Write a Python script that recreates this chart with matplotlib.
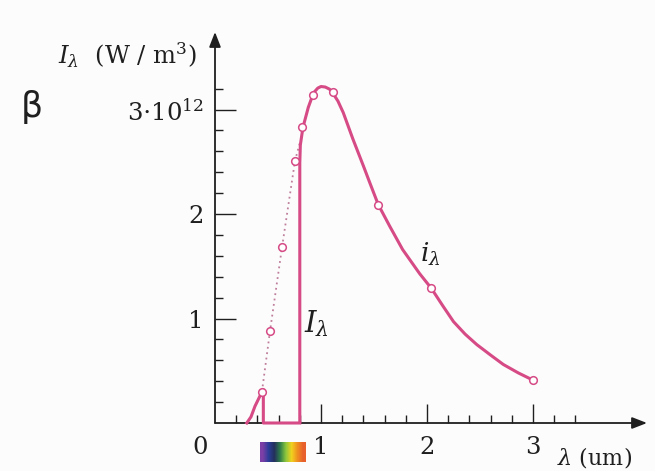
import matplotlib
matplotlib.use("Agg")
import matplotlib.pyplot as plt
import numpy as np
from matplotlib.colors import to_rgb

# (x in um, y in 10^12 W/m^3)
marker_x = [0.443, 0.519, 0.632, 0.755, 0.825, 0.925, 1.113, 1.538, 2.04, 3.0]
marker_y = [0.30, 0.88, 1.68, 2.51, 2.83, 3.14, 3.17, 2.09, 1.29, 0.41]

# dotted part (spectrum that is cut off)
dotted_x = [0.443, 0.519, 0.632, 0.755, 0.80]
dotted_y = [0.30, 0.88, 1.68, 2.51, 2.68]

# short rise at the left
left_x = [0.30, 0.34, 0.377, 0.42, 0.456, 0.456, 0.80]
left_y = [0.0, 0.06, 0.16, 0.25, 0.32, 0.0, 0.0]

# main solid curve
curve_x = [0.80, 0.80, 0.805, 0.83, 0.88, 0.93, 0.97, 1.00, 1.04, 1.08, 1.11, 1.16, 1.21,
           1.30, 1.40, 1.46, 1.54, 1.65, 1.77, 1.93, 2.04, 2.15, 2.25, 2.36, 2.47, 2.60,
           2.72, 2.86, 3.0]
curve_y = [0.0, 2.49, 2.66, 2.83, 3.02, 3.16, 3.205, 3.22, 3.215, 3.195, 3.16, 3.08, 2.97,
           2.72, 2.46, 2.30, 2.09, 1.88, 1.66, 1.43, 1.29, 1.12, 0.97, 0.85, 0.75, 0.65,
           0.56, 0.48, 0.41]

y_tick_labels = ["1", "2", r"$3{\cdot}10^{12}$"]
x_tick_labels = ["1", "2", "3"]
spectrum_colors = ["#7b3fa6", "#2c3c98", "#23305c", "#2f7d4a", "#8cc63e", "#f0d21e", "#f09020", "#e8602c"]

pink = "#d64a85"
ink = "#1f1f1f"

plt.rcParams["font.family"] = "DejaVu Serif"
plt.rcParams["mathtext.fontset"] = "dejavuserif"

fig = plt.figure(figsize=(6.55, 4.71), dpi=100, facecolor="#fcfcfc")
W, H = 655, 471
x0, y0 = 215, 423
sx, sy = 106, 104.5
xmax = (647 - x0) / sx
ymax = (y0 - 32) / sy
ax = fig.add_axes([x0 / W, (H - y0) / H, (647 - x0) / W, (y0 - 32) / H])
ax.set_facecolor("none")
ax.set_xlim(0, xmax)
ax.set_ylim(0, ymax)

for s in ax.spines.values():
    s.set_visible(False)

# axes with arrow heads
ax.annotate("", xy=(1, 0), xytext=(0, 0), xycoords="axes fraction",
            arrowprops=dict(arrowstyle="-|>,head_length=0.9,head_width=0.35",
                            color=ink, lw=1.3, shrinkA=0, shrinkB=0), zorder=1)
ax.annotate("", xy=(0, 1), xytext=(0, 0), xycoords="axes fraction",
            arrowprops=dict(arrowstyle="-|>,head_length=0.9,head_width=0.35",
                            color=ink, lw=1.3, shrinkA=0, shrinkB=0), zorder=1)

ax.set_xticks([1, 2, 3])
ax.set_xticklabels(x_tick_labels)
ax.set_xticks(np.arange(0.2, 3.5, 0.2), minor=True)
ax.set_yticks([1, 2, 3])
ax.set_yticklabels(y_tick_labels)
ax.set_yticks(np.arange(0.2, 3.3, 0.2), minor=True)
ax.tick_params(which="major", direction="in", length=14, width=1.0, color=ink,
               labelsize=17.5, labelcolor=ink, pad=9)
ax.tick_params(which="minor", direction="in", length=6, width=1.0, color=ink)
ax.tick_params(axis="y", which="major", length=15, pad=8)

# dotted cut-off part
ax.plot(dotted_x, dotted_y, ls=(0, (1, 2.0)), color="#bf7f9c", lw=1.3, zorder=2)
# solid curves
ax.plot(left_x, left_y, color=pink, lw=2.2, zorder=3, clip_on=False)
ax.plot(curve_x, curve_y, color=pink, lw=2.2, zorder=3, solid_joinstyle="round")
ax.plot(marker_x, marker_y, ls="none", marker="o", ms=5.5, mfc="white",
        mec=pink, mew=1.1, zorder=4)

# visible spectrum bar under the axis
bar = np.array([[to_rgb(c) for c in spectrum_colors]])
ax.imshow(bar, extent=[0.425, 0.85, -0.37, -0.18], aspect="auto",
          interpolation="bilinear", clip_on=False, zorder=2)
ax.set_xlim(0, xmax)
ax.set_ylim(0, ymax)

# texts
ax.text(-0.14, -0.23, "0", fontsize=17.5, color=ink, ha="center", va="center")
ax.text(-0.17, 3.52, r"$I_\lambda$  (W / m$^3$)", fontsize=17.5, color=ink,
        ha="right", va="center")
ax.text(-1.73, 3.02, "β", fontsize=25, color=ink, family="DejaVu Sans",
        ha="center", va="center")
ax.text(1.93, 1.61, r"$i_\lambda$", fontsize=19, color=ink, ha="left", va="center")
ax.text(0.84, 0.95, r"$I_\lambda$", fontsize=21, color=ink, ha="left", va="center")
ax.text(3.23, -0.33, r"$\lambda$ (um)", fontsize=16, color=ink, ha="left",
        va="center", clip_on=False)

fig.savefig("out.png", dpi=100, facecolor=fig.get_facecolor())
